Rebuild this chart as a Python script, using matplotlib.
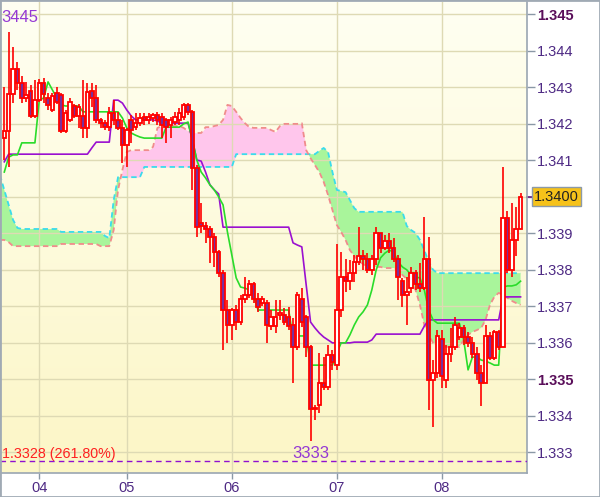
import numpy as np
import matplotlib.pyplot as plt
from matplotlib.patches import Rectangle
from matplotlib.colors import LinearSegmentedColormap
from matplotlib.transforms import blended_transform_factory

plt.rcParams['font.family'] = ['Liberation Sans', 'DejaVu Sans']

# hourly bars, x axis = bar number
day_labels = ['04', '05', '06', '07', '08']
day_starts = [8, 28, 52, 76, 100]

opens = [1.34160, 1.34179, 1.34281, 1.34349, 1.34311, 1.34270, 1.34289, 1.34221, 1.34264, 1.34311,
         1.34270, 1.34237, 1.34284, 1.34278, 1.34179, 1.34210, 1.34248, 1.34221, 1.34221, 1.34188,
         1.34289, 1.34270, 1.34210, 1.34201, 1.34190, 1.34229, 1.34210, 1.34188, 1.34141, 1.34210,
         1.34190, 1.34201, 1.34218, 1.34210, 1.34215, 1.34223, 1.34218, 1.34210, 1.34196, 1.34204,
         1.34210, 1.34218, 1.34251, 1.34232, 1.34078, 1.33927, 1.33919, 1.33911, 1.33889, 1.33848,
         1.33790, 1.33689, 1.33648, 1.33689, 1.33656, 1.33719, 1.33730, 1.33760, 1.33719, 1.33708,
         1.33708, 1.33645, 1.33645, 1.33675, 1.33675, 1.33670, 1.33648, 1.33588, 1.33719, 1.33670,
         1.33588, 1.33418, 1.33429, 1.33489, 1.33478, 1.33566, 1.33538, 1.33689, 1.33779, 1.33768,
         1.33790, 1.33821, 1.33837, 1.33829, 1.33799, 1.33829, 1.33900, 1.33859, 1.33878, 1.33859,
         1.33829, 1.33768, 1.33730, 1.33749, 1.33790, 1.33760, 1.33749, 1.33829, 1.33497, 1.33516,
         1.33610, 1.33497, 1.33568, 1.33588, 1.33615, 1.33640, 1.33615, 1.33599, 1.33568, 1.33516,
         1.33489, 1.33618, 1.33558, 1.33629, 1.33588, 1.33941, 1.33799, 1.33881, 1.33911]
highs = [1.34300, 1.34451, 1.34410, 1.34368, 1.34330, 1.34314, 1.34305, 1.34319, 1.34322, 1.34325,
         1.34284, 1.34284, 1.34300, 1.34284, 1.34237, 1.34270, 1.34253, 1.34253, 1.34319, 1.34311,
         1.34311, 1.34305, 1.34215, 1.34210, 1.34245, 1.34264, 1.34232, 1.34210, 1.34188, 1.34223,
         1.34229, 1.34229, 1.34229, 1.34229, 1.34229, 1.34232, 1.34229, 1.34215, 1.34218, 1.34232,
         1.34242, 1.34256, 1.34256, 1.34237, 1.34086, 1.33982, 1.33930, 1.33919, 1.33900, 1.33853,
         1.33799, 1.33716, 1.33695, 1.33703, 1.33730, 1.33779, 1.33771, 1.33766, 1.33736, 1.33727,
         1.33716, 1.33689, 1.33716, 1.33716, 1.33695, 1.33697, 1.33667, 1.33738, 1.33749, 1.33675,
         1.33593, 1.33429, 1.33571, 1.33560, 1.33593, 1.33579, 1.33870, 1.33848, 1.33829, 1.33826,
         1.33840, 1.33916, 1.33853, 1.33845, 1.33840, 1.33916, 1.33900, 1.33895, 1.33900, 1.33886,
         1.33840, 1.33777, 1.33779, 1.33807, 1.33799, 1.33818, 1.33944, 1.33889, 1.33552, 1.33634,
         1.33634, 1.33593, 1.33640, 1.33670, 1.33653, 1.33648, 1.33629, 1.33615, 1.33588, 1.33538,
         1.33648, 1.33629, 1.33634, 1.33634, 1.34081, 1.33960, 1.33982, 1.33971, 1.34010]
lows = [1.34100, 1.34081, 1.34256, 1.34292, 1.34256, 1.34259, 1.34215, 1.34215, 1.34259, 1.34256,
        1.34237, 1.34232, 1.34253, 1.34174, 1.34174, 1.34204, 1.34215, 1.34188, 1.34160, 1.34160,
        1.34245, 1.34201, 1.34188, 1.34182, 1.34179, 1.34196, 1.34182, 1.34092, 1.34081, 1.34147,
        1.34182, 1.34193, 1.34196, 1.34199, 1.34204, 1.34196, 1.34160, 1.34147, 1.34160, 1.34196,
        1.34196, 1.34210, 1.34223, 1.34018, 1.33889, 1.33900, 1.33873, 1.33818, 1.33807, 1.33779,
        1.33579, 1.33599, 1.33607, 1.33634, 1.33648, 1.33708, 1.33722, 1.33708, 1.33684, 1.33700,
        1.33599, 1.33634, 1.33626, 1.33662, 1.33648, 1.33634, 1.33489, 1.33579, 1.33642, 1.33560,
        1.33330, 1.33388, 1.33407, 1.33470, 1.33470, 1.33525, 1.33525, 1.33670, 1.33738, 1.33744,
        1.33766, 1.33812, 1.33799, 1.33790, 1.33785, 1.33812, 1.33845, 1.33853, 1.33845, 1.33821,
        1.33716, 1.33697, 1.33648, 1.33736, 1.33744, 1.33738, 1.33744, 1.33415, 1.33368, 1.33503,
        1.33475, 1.33475, 1.33547, 1.33580, 1.33607, 1.33593, 1.33588, 1.33558, 1.33497, 1.33426,
        1.33489, 1.33552, 1.33552, 1.33579, 1.33588, 1.33790, 1.33779, 1.33837, 1.33911]
closes = [1.34179, 1.34281, 1.34349, 1.34311, 1.34270, 1.34278, 1.34221, 1.34264, 1.34311, 1.34281,
          1.34251, 1.34275, 1.34259, 1.34179, 1.34229, 1.34259, 1.34221, 1.34245, 1.34188, 1.34286,
          1.34270, 1.34210, 1.34201, 1.34190, 1.34229, 1.34210, 1.34188, 1.34141, 1.34182, 1.34182,
          1.34201, 1.34215, 1.34210, 1.34218, 1.34223, 1.34210, 1.34196, 1.34190, 1.34210, 1.34218,
          1.34229, 1.34251, 1.34232, 1.34078, 1.33916, 1.33919, 1.33911, 1.33889, 1.33848, 1.33790,
          1.33689, 1.33648, 1.33689, 1.33656, 1.33719, 1.33730, 1.33760, 1.33719, 1.33697, 1.33719,
          1.33648, 1.33670, 1.33670, 1.33681, 1.33656, 1.33645, 1.33588, 1.33730, 1.33656, 1.33588,
          1.33418, 1.33421, 1.33489, 1.33478, 1.33566, 1.33547, 1.33689, 1.33779, 1.33768, 1.33790,
          1.33821, 1.33837, 1.33829, 1.33799, 1.33829, 1.33900, 1.33859, 1.33878, 1.33859, 1.33829,
          1.33779, 1.33730, 1.33738, 1.33790, 1.33760, 1.33749, 1.33829, 1.33497, 1.33516, 1.33618,
          1.33508, 1.33568, 1.33588, 1.33648, 1.33640, 1.33615, 1.33599, 1.33568, 1.33516, 1.33489,
          1.33618, 1.33558, 1.33629, 1.33588, 1.33941, 1.33799, 1.33881, 1.33911, 1.34000]

# Ichimoku: conversion (tenkan) and base (kijun) lines, one value per bar
tenkan = [1.34067, 1.34108, 1.34114, 1.34114, 1.34147, 1.34147, 1.34147, 1.34147, 1.34264, 1.34270,
          1.34314, 1.34292, 1.34270, 1.34251, 1.34248, 1.34248, 1.34248, 1.34248, 1.34232, 1.34232,
          1.34232, 1.34232, 1.34232, 1.34232, 1.34232, 1.34232, 1.34232, 1.34215, 1.34188, 1.34174,
          1.34168, 1.34163, 1.34160, 1.34160, 1.34160, 1.34160, 1.34160, 1.34190, 1.34190, 1.34190,
          1.34190, 1.34199, 1.34204, 1.34155, 1.34100, 1.34067, 1.34051, 1.34032, 1.34018, 1.33999,
          1.33977, 1.33903, 1.33840, 1.33777, 1.33752, 1.33749, 1.33744, 1.33727, 1.33689, 1.33689,
          1.33689, 1.33689, 1.33689, 1.33689, 1.33689, 1.33689, 1.33612, 1.33618, 1.33618, 1.33618,
          1.33538, 1.33538, 1.33538, 1.33538, 1.33538, 1.33538, 1.33571, 1.33599, 1.33599, 1.33621,
          1.33648, 1.33670, 1.33684, 1.33703, 1.33744, 1.33799, 1.33832, 1.33845, 1.33853, 1.33848,
          1.33821, 1.33807, 1.33799, 1.33785, 1.33779, 1.33777, 1.33744, 1.33689, 1.33662, 1.33653,
          1.33653, 1.33653, 1.33653, 1.33653, 1.33653, 1.33607, 1.33525, 1.33560, 1.33560, 1.33552,
          1.33549, 1.33544, 1.33538, 1.33538, 1.33752, 1.33755, 1.33755, 1.33758, 1.33768]
kijun = [1.34095, 1.34116, 1.34116, 1.34116, 1.34116, 1.34116, 1.34116, 1.34116, 1.34116, 1.34116,
         1.34116, 1.34116, 1.34116, 1.34116, 1.34116, 1.34116, 1.34116, 1.34116, 1.34116, 1.34116,
         1.34133, 1.34149, 1.34149, 1.34149, 1.34149, 1.34264, 1.34264, 1.34256, 1.34237, 1.34221,
         1.34210, 1.34210, 1.34210, 1.34210, 1.34210, 1.34207, 1.34201, 1.34201, 1.34201, 1.34201,
         1.34201, 1.34201, 1.34201, 1.34155, 1.34100, 1.34097, 1.34067, 1.34032, 1.34018, 1.34007,
         1.33916, 1.33916, 1.33916, 1.33916, 1.33916, 1.33916, 1.33916, 1.33916, 1.33916, 1.33916,
         1.33916, 1.33916, 1.33916, 1.33916, 1.33916, 1.33916, 1.33873, 1.33867, 1.33862, 1.33758,
         1.33656, 1.33640, 1.33626, 1.33615, 1.33607, 1.33599, 1.33599, 1.33599, 1.33599, 1.33599,
         1.33601, 1.33601, 1.33601, 1.33601, 1.33607, 1.33623, 1.33623, 1.33623, 1.33623, 1.33623,
         1.33623, 1.33623, 1.33623, 1.33623, 1.33623, 1.33623, 1.33645, 1.33662, 1.33662, 1.33662,
         1.33662, 1.33662, 1.33662, 1.33662, 1.33662, 1.33662, 1.33662, 1.33662, 1.33662, 1.33662,
         1.33662, 1.33662, 1.33662, 1.33662, 1.33725, 1.33725, 1.33725, 1.33725, 1.33725]

# leading spans (cloud), from bar -1 to the last bar
span_a = [1.34059, 1.34018, 1.33977, 1.33936, 1.33914, 1.33911, 1.33911, 1.33911, 1.33911, 1.33911,
          1.33911, 1.33911, 1.33911, 1.33911, 1.33903, 1.33903, 1.33903, 1.33903, 1.33903, 1.33903,
          1.33903, 1.33903, 1.33903, 1.33903, 1.33892, 1.33886, 1.33990, 1.34053, 1.34053, 1.34053,
          1.34053, 1.34053, 1.34053, 1.34081, 1.34081, 1.34081, 1.34081, 1.34081, 1.34081, 1.34081,
          1.34081, 1.34081, 1.34081, 1.34081, 1.34081, 1.34081, 1.34081, 1.34081, 1.34081, 1.34081,
          1.34081, 1.34081, 1.34081, 1.34081, 1.34116, 1.34116, 1.34116, 1.34116, 1.34116, 1.34116,
          1.34116, 1.34116, 1.34116, 1.34116, 1.34116, 1.34116, 1.34116, 1.34116, 1.34116, 1.34116,
          1.34116, 1.34116, 1.34116, 1.34125, 1.34133, 1.34122, 1.34067, 1.34018, 1.34015, 1.34012,
          1.33990, 1.33968, 1.33958, 1.33958, 1.33958, 1.33958, 1.33958, 1.33958, 1.33958, 1.33958,
          1.33958, 1.33958, 1.33958, 1.33919, 1.33908, 1.33900, 1.33881, 1.33853, 1.33821, 1.33799,
          1.33790, 1.33790, 1.33790, 1.33790, 1.33790, 1.33790, 1.33790, 1.33790, 1.33790, 1.33790,
          1.33790, 1.33790, 1.33790, 1.33790, 1.33790, 1.33790, 1.33790, 1.33790, 1.33790, 1.33790]
span_b = [1.33881, 1.33881, 1.33875, 1.33864, 1.33864, 1.33864, 1.33864, 1.33864, 1.33864, 1.33864,
          1.33864, 1.33864, 1.33864, 1.33864, 1.33870, 1.33870, 1.33870, 1.33870, 1.33870, 1.33870,
          1.33870, 1.33870, 1.33870, 1.33864, 1.33864, 1.33864, 1.33908, 1.34018, 1.34073, 1.34122,
          1.34127, 1.34127, 1.34127, 1.34127, 1.34127, 1.34136, 1.34188, 1.34193, 1.34193, 1.34193,
          1.34193, 1.34193, 1.34188, 1.34179, 1.34177, 1.34174, 1.34174, 1.34190, 1.34190, 1.34193,
          1.34196, 1.34210, 1.34251, 1.34248, 1.34232, 1.34215, 1.34201, 1.34190, 1.34188, 1.34188,
          1.34188, 1.34188, 1.34182, 1.34177, 1.34193, 1.34199, 1.34199, 1.34199, 1.34199, 1.34201,
          1.34127, 1.34105, 1.34086, 1.34067, 1.34040, 1.34004, 1.33963, 1.33922, 1.33903, 1.33881,
          1.33853, 1.33837, 1.33823, 1.33815, 1.33807, 1.33807, 1.33807, 1.33807, 1.33804, 1.33804,
          1.33804, 1.33799, 1.33785, 1.33774, 1.33763, 1.33744, 1.33703, 1.33648, 1.33621, 1.33599,
          1.33590, 1.33588, 1.33588, 1.33588, 1.33588, 1.33588, 1.33607, 1.33621, 1.33629, 1.33634,
          1.33640, 1.33662, 1.33703, 1.33725, 1.33736, 1.33730, 1.33722, 1.33714, 1.33708, 1.33703]

fib_level = 1.33275
fib_text = '1.3328 (261.80%)'
high_text = '3445'
low_text = '3333'
last_price = 1.3400
price_ticks = [1.333, 1.334, 1.335, 1.336, 1.337, 1.338, 1.339, 1.340, 1.341, 1.342, 1.343, 1.344, 1.345]

n = len(opens)
x = np.arange(n)
xc = np.arange(-1, n)
a = np.array(span_a)
b = np.array(span_b)

fig = plt.figure(figsize=(6, 4.97), dpi=100)
fig.patch.set_facecolor('white')
ax = fig.add_axes([0, 24 / 497, 527 / 600, 471 / 497])
x0, x1 = -0.98, 119.47
y0, y1 = 1.332425, 1.345329
ax.set_xlim(x0, x1)
ax.set_ylim(y0, y1)

# yellowish gradient background
bg = LinearSegmentedColormap.from_list('bg', ['#FFFFF2', '#FCF6C6'])
ax.imshow(np.linspace(0, 1, 256).reshape(-1, 1), cmap=bg, extent=[x0, x1, y0, y1],
          aspect='auto', zorder=0)

# cloud
ax.fill_between(xc, a, b, where=a >= b, interpolate=True, color='#A9F59B', lw=0, zorder=0.3)
ax.fill_between(xc, a, b, where=a < b, interpolate=True, color='#FFC6EC', lw=0, zorder=0.3)
ax.plot(xc, a, color='#3ADCEC', lw=1.3, dashes=(3, 2), zorder=1)
ax.plot(xc, b, color='#F08C8C', lw=1.3, dashes=(3, 2), zorder=1)

ax.plot(x, kijun, color='#9A10D0', lw=1.2, zorder=2)
ax.plot(x, tenkan, color='#2ADC2A', lw=1.2, zorder=2)

# candles
for i in range(n):
    o, h, l, c = opens[i], highs[i], lows[i], closes[i]
    ax.plot([i, i], [l, h], color='#FF0000', lw=1.2, zorder=3, solid_capstyle='butt')
    fc = 'white' if c >= o else '#7A2E9A'
    ax.add_patch(Rectangle((i - 0.4, min(o, c)), 0.8, max(abs(c - o), 0.00002),
                           facecolor=fc, edgecolor='#FF0000', lw=1.3, zorder=4))

ax.axhline(fib_level, color='#9010D0', lw=1, dashes=(4, 3), zorder=5)
ax.text(-0.6, 1.33295, fib_text, color='#FF2020', fontsize=10.3, ha='left', va='center', zorder=6)
ax.text(-0.6, 1.34490, high_text, color='#9438D4', fontsize=12, ha='left', va='center', zorder=6)
ax.text(70, 1.33295, low_text, color='#9438D4', fontsize=12, ha='center', va='center', zorder=6)

# grid and axes
ax.set_axisbelow(True)
ax.set_yticks(price_ticks)
ax.set_xticks(day_starts)
ax.set_xticklabels(day_labels)
ax.grid(True, color='#DEDAB4', lw=1)
ax.yaxis.tick_right()
ax.tick_params(axis='y', length=6, width=1, color='#8A98A6', pad=1, labelsize=10.5,
               labelcolor='#4E2A84')
ax.tick_params(axis='x', length=4, width=1, color='#8A98A6', pad=2, labelsize=10.5,
               labelcolor='#4E2A84')
labels = []
for p in price_ticks:
    labels.append('' if abs(p - last_price) < 1e-6 else '%.3f' % p)
ax.set_yticklabels(labels)
for t, p in zip(ax.get_yticklabels(), price_ticks):
    if abs(p - 1.345) < 1e-6 or abs(p - 1.335) < 1e-6:
        t.set_fontweight('bold')
        t.set_color('#5A0F5A')
for side in ['left', 'top']:
    ax.spines[side].set_visible(False)
for side in ['right', 'bottom']:
    ax.spines[side].set_color('#9AA6B2')
    ax.spines[side].set_linewidth(1.2)

# last price box
tr = blended_transform_factory(ax.transAxes, ax.transData)
ax.text(1.013, last_price, '%.4f' % last_price, transform=tr, fontsize=10.5, color='#222222',
        ha='left', va='center', zorder=7, clip_on=False,
        bbox=dict(boxstyle='square,pad=0.15', facecolor='#F6C21A', edgecolor='#8C9AA8', lw=1))
ax.plot([1.0, 1.012], [last_price, last_price], transform=tr, color='#6A1A80', lw=1.2, clip_on=False)

fig.patches.append(Rectangle((0, 0), 1, 1, transform=fig.transFigure, fill=False,
                             edgecolor='#A0AAB4', lw=2))
fig.patches.append(Rectangle((0, 0.997), 1, 0.003, transform=fig.transFigure,
                             facecolor='#A0AAB4', lw=0))

plt.savefig('out.png', dpi=100)
